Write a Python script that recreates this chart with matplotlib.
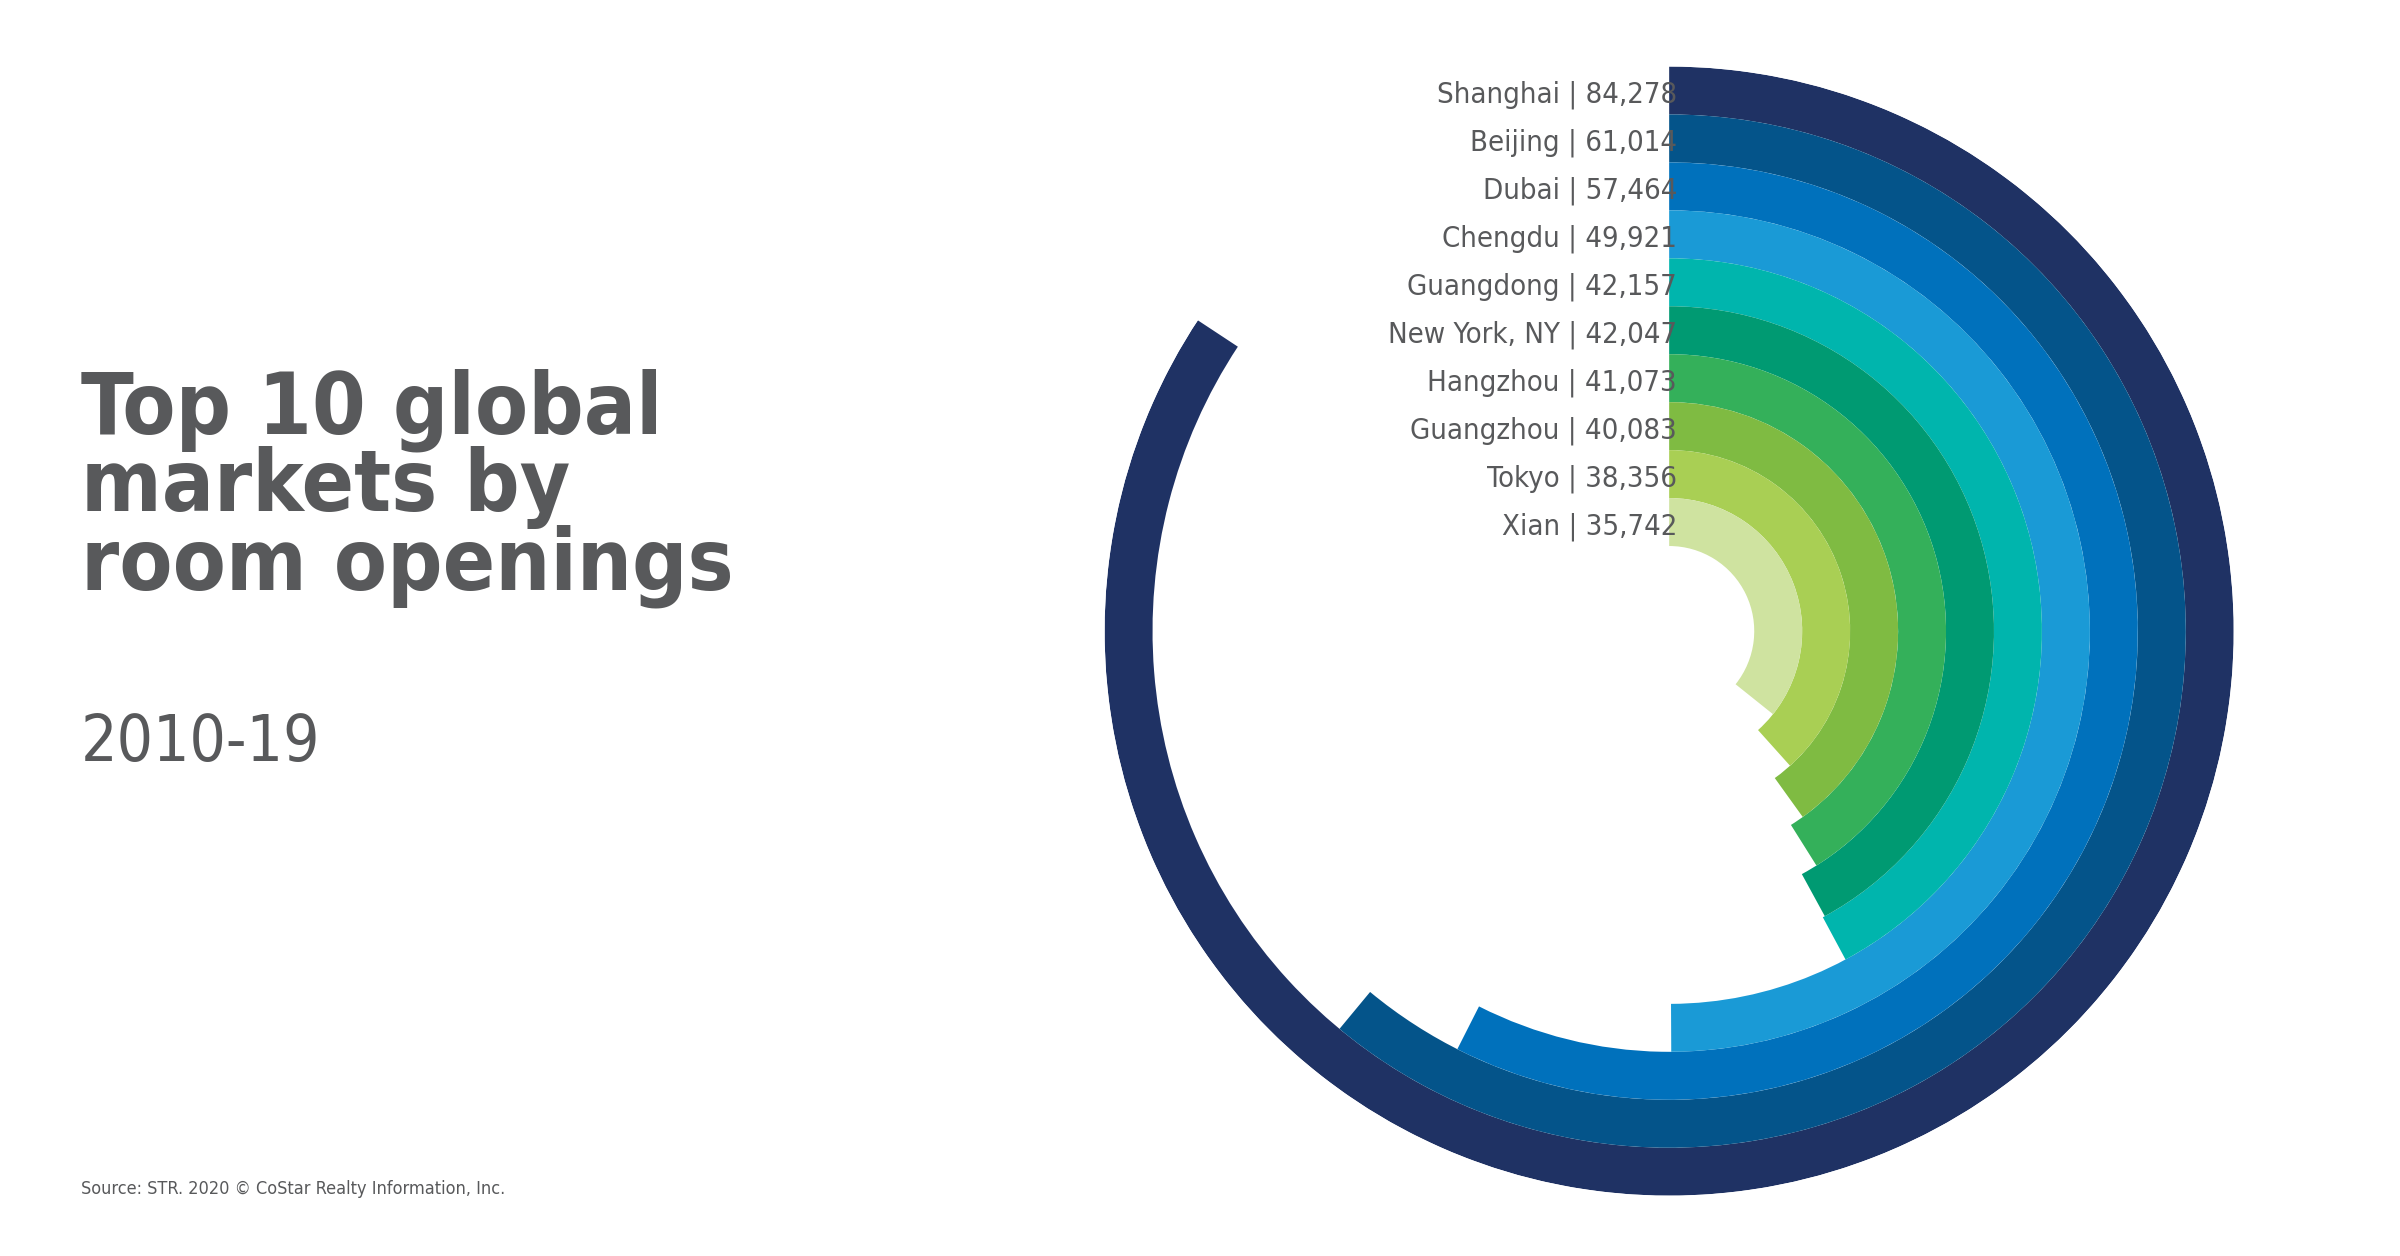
import numpy as np
import matplotlib.pyplot as plt
from matplotlib import font_manager

cities = ["Shanghai", "Beijing", "Dubai", "Chengdu", "Guangdong", "New York, NY",
          "Hangzhou", "Guangzhou", "Tokyo", "Xian"]
rooms = [84278, 61014, 57464, 49921, 42157, 42047, 41073, 40083, 38356, 35742]
colors = ["#1f3264", "#04548a", "#0071bc", "#1a9ad6", "#00b5ad",
          "#009a72", "#34b05a", "#7fbb42", "#a9cf54", "#cfe3a0"]
scale_max = 100000

names = {f.name for f in font_manager.fontManager.ttflist}
family = "Liberation Sans Narrow" if "Liberation Sans Narrow" in names else "DejaVu Sans"
plt.rcParams["font.family"] = family
plt.rcParams["font.stretch"] = "condensed"
grey = "#58595b"

W, H = 1550, 812  # layout reference units
fig = plt.figure(figsize=(24, 12.56), dpi=100)
cx, cy, R, ring = 1078, 408, 365, 31

ax = fig.add_axes([(cx - R) / W, 1 - (cy + R) / H, 2 * R / W, 2 * R / H], projection="polar")
ax.set_theta_zero_location("N")
ax.set_theta_direction(-1)
ax.set_ylim(0, R)
ax.axis("off")

for i, (c, v, col) in enumerate(zip(cities, rooms, colors)):
    outer = R - ring * i
    theta = v / scale_max * 2 * np.pi
    ax.bar(0, ring, width=theta, bottom=outer - ring, align="edge", color=col, linewidth=0)
    ymid = cy - (outer - ring / 2) + 3
    fig.text(1083 / W, 1 - ymid / H, f"{c} | {v:,}", ha="right", va="center",
             fontsize=21, color=grey, fontstretch="condensed")

fig.text(52 / W, 1 - 238 / H, "Top 10 global\nmarkets by\nroom openings", ha="left",
         va="top", fontsize=62, fontweight="bold", color=grey, linespacing=0.92,
         fontstretch="condensed")
fig.text(52 / W, 1 - 492 / H, "2010-19", ha="left", va="baseline", fontsize=46, color=grey,
         fontstretch="condensed")
fig.text(52 / W, 1 - 772 / H, "Source: STR. 2020 \u00a9 CoStar Realty Information, Inc.",
         ha="left", va="baseline", fontsize=13, color=grey, fontstretch="condensed")

fig.savefig("out.png", dpi=100, facecolor="white")
